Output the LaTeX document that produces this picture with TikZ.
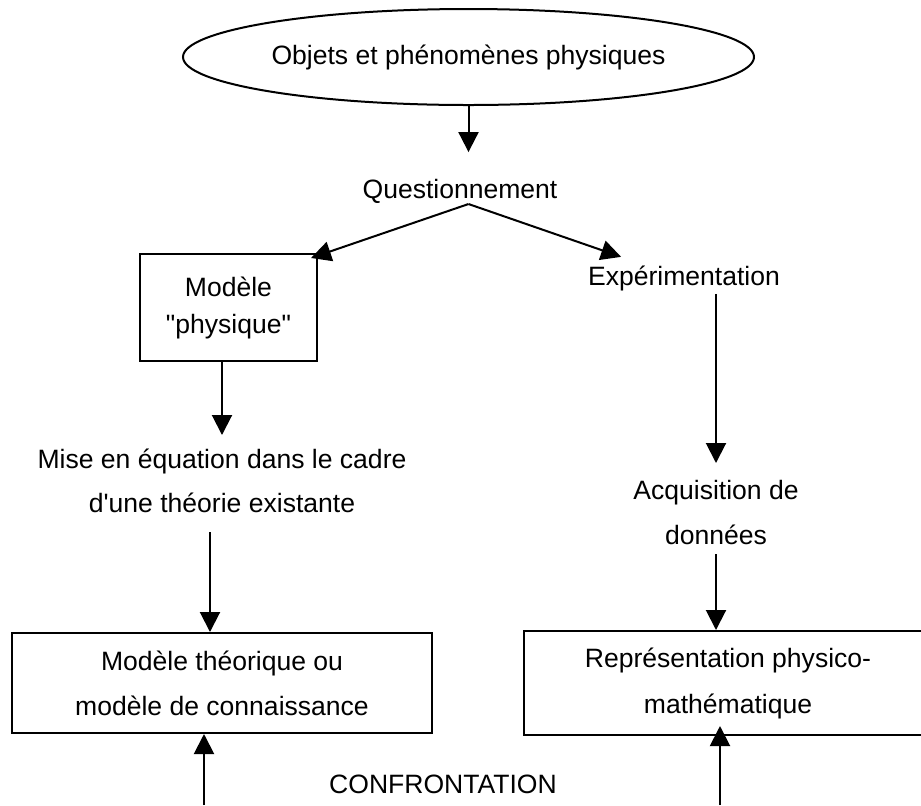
\documentclass[tikz,border=0pt]{standalone}
\usepackage{fontspec}
\setmainfont{Liberation Sans}[Ligatures=TeXOff]
\usetikzlibrary{arrows.meta,shapes.geometric}

\begin{document}
\begin{tikzpicture}[x=0.5pt,y=-0.5pt,line width=1pt,
  font={\fontsize{13.27pt}{22.5pt}\selectfont},>={Triangle[length=10pt,width=10pt]},
  txt/.style={inner sep=0pt,align=center},
  cadre/.style={draw,inner sep=0pt,align=center},
  bulle/.style={draw,ellipse,inner sep=0pt,minimum width=285.5pt,minimum height=48pt}]
  \useasboundingbox (0,0) rectangle (921,805);
  \node[bulle] (obj) at (468.5,57) {Objets et phénomènes physiques};
  \node[txt,anchor=base] (quest) at (460,198) {Questionnement};
  \node[cadre,minimum width=88.5pt,minimum height=53.5pt,font={\fontsize{13.27pt}{18.5pt}\selectfont}] (modphys) at (228.5,307.5) {Modèle\\"physique"};
  \node[txt,anchor=base] (exp) at (684,285) {Expérimentation};
  \node[txt,anchor=north,font={\fontsize{13.27pt}{22pt}\selectfont}] (mise) at (222,447.6) {Mise en équation dans le cadre\\d'une théorie existante};
  \node[txt,anchor=north] (acq) at (716,479) {Acquisition de\\données};
  \node[cadre,minimum width=210pt,minimum height=50pt] (modth) at (222,683) {Modèle théorique ou\\modèle de connaissance};
  \node[cadre,minimum width=204pt,minimum height=52pt,font={\fontsize{13.27pt}{23pt}\selectfont}] (repr) at (728,683) {Représentation physico-\\mathématique};
  \node[txt,anchor=base] (conf) at (443,793) {CONFRONTATION};
  \coordinate (gbas) at (204,805);
  \coordinate (dbas) at (720,805);
  % fleches
  \draw[->,shorten >=12.85pt] (obj.south) -- (obj.south |- quest.north);
  \draw[->] (quest.south -| obj.south) -- ([xshift=-3.5pt,yshift=-2.5pt]modphys.north east);
  \draw[->] (quest.south -| obj.south) -- ([xshift=17pt,yshift=3.8pt]exp.north west);
  \draw[->,shorten >=6.3pt] (modphys.south -| mise.north) -- (mise.north);
  \draw[->,shorten <=9.3pt] ([xshift=-6pt]mise.south) -- ([xshift=-6pt]modth.north);
  \draw[->,shorten <=1.2pt,shorten >=8pt] (exp.south -| acq.north) -- (acq.north);
  \draw[->,shorten <=4.3pt] (acq.south) -- (acq.south |- repr.north);
  \draw[->] (gbas) -- (gbas |- modth.south);
  \draw[->,shorten >=-5pt] (dbas) -- (dbas |- repr.south);
\end{tikzpicture}
\end{document}
